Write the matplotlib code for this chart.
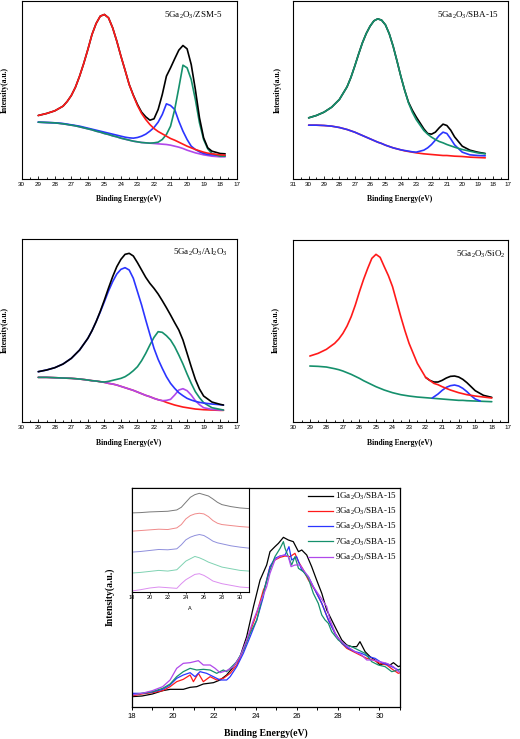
import matplotlib
matplotlib.use('Agg')
import matplotlib.pyplot as plt
from matplotlib.ticker import MultipleLocator

plt.rcParams['font.family'] = 'Liberation Sans'
plt.rcParams['mathtext.fontset'] = 'custom'
plt.rcParams['mathtext.rm'] = 'Liberation Serif'
plt.rcParams['mathtext.it'] = 'Liberation Serif:italic'
plt.rcParams['mathtext.bf'] = 'Liberation Serif:bold'

W, H = 520, 739
SERIF = 'Liberation Serif'

# ---------------- fitted spectra (arbitrary intensity units) ----------------
# 5Ga2O3/ZSM-5
zsm_e = [29, 28.5, 28, 27.5, 27.25, 27, 26.75, 26.5, 26.25, 26, 25.75, 25.5, 25.25, 25, 24.75,
         24.5, 24.25, 24, 23.75, 23.5, 23.25, 23, 22.75, 22.5, 22.25, 22, 21.75, 21.5, 21.25, 21,
         20.75, 20.5, 20.25, 20, 19.75, 19.5, 19.25, 19, 18.75, 18.5, 18, 17.7]
zsm_total = [252, 258, 266, 280, 294, 312, 337, 370, 408, 450, 495, 528, 550, 555, 545, 515, 475,
             430, 388, 345, 313, 285, 262, 248, 238, 242, 270, 315, 370, 395, 422, 448, 462, 452,
             405, 330, 245, 185, 155, 145, 138, 137]
zsm_p1 = [252, 258, 266, 280, 294, 312, 337, 370, 408, 450, 495, 528, 550, 555, 545, 515, 475,
          430, 388, 345, 312, 282, 258, 240, 225, 213, 204, 197, 190, 183, 178, 172, 166, 160,
          155, 150, 146, 142, 139, 137, 134, 133]
zsm_p2 = [232, 231, 230, 228, 226, 224, 222, 220, 217, 214, 211, 208, 205, 202, 199, 196, 193,
          190, 187, 185, 184, 186, 190, 196, 205, 216, 232, 255, 287, 282, 270, 235, 205, 180,
          160, 150, 143, 138, 135, 134, 132, 132]
zsm_p3 = [232, 231, 230, 227, 225, 223, 221, 218, 215, 212, 209, 205, 202, 198, 195, 191, 188,
          184, 181, 178, 175, 173, 171, 170, 169, 170, 172, 180, 195, 220, 270, 335, 403, 395,
          360, 300, 230, 180, 152, 138, 130, 130]
zsm_bg = [232, 231, 230, 227, 225, 223, 221, 218, 215, 212, 209, 205, 202, 198, 195, 191, 188,
          184, 181, 178, 175, 173, 171, 170, 169, 168, 167, 166, 165, 163, 160, 157, 153, 148,
          144, 140, 137, 134, 132, 130, 128, 128]

# 5Ga2O3/SBA-15
sba_e = [30, 29.5, 29, 28.5, 28, 27.5, 27.25, 27, 26.75, 26.5, 26.25, 26, 25.75, 25.5, 25.25, 25,
         24.75, 24.5, 24.25, 24, 23.75, 23.5, 23.25, 23, 22.5, 22.25, 22, 21.75, 21.5, 21.25, 21,
         20.75, 20.5, 20, 19.5, 19, 18.5]
sba_total = [245, 252, 262, 277, 300, 338, 366, 400, 436, 470, 498, 520, 536, 542, 538, 524, 497,
             460, 416, 370, 328, 292, 268, 248, 212, 198, 196, 202, 215, 226, 222, 208, 188, 160,
             148, 142, 138]
sba_p1 = [245, 252, 262, 277, 300, 338, 366, 400, 436, 470, 498, 520, 536, 542, 538, 524, 497,
          460, 416, 370, 328, 290, 262, 240, 207, 196, 187, 180, 174, 170, 165, 161, 157, 150,
          145, 140, 137]
sba_p2 = [223, 223, 222, 220, 216, 210, 206, 202, 197, 192, 187, 182, 177, 172, 168, 163, 159,
          155, 152, 149, 147, 145, 143, 142, 148, 155, 165, 178, 192, 202, 198, 182, 164, 142,
          134, 132, 131]
sba_bg = [223, 223, 222, 220, 216, 210, 206, 202, 197, 192, 187, 182, 177, 172, 168, 163, 159,
          155, 152, 149, 146, 144, 142, 140, 137, 136, 135, 134, 133, 132, 132, 131, 130, 129,
          127, 126, 125]

# 5Ga2O3/Al2O3
al_e = [29, 28.5, 28, 27.5, 27, 26.5, 26, 25.75, 25.5, 25.25, 25, 24.75, 24.5, 24.25, 24, 23.75,
        23.5, 23.25, 23, 22.75, 22.5, 22.25, 22, 21.75, 21.5, 21.25, 21, 20.75, 20.5, 20.25, 20,
        19.75, 19.5, 19.25, 19, 18.5, 18, 17.8]
al_total = [195, 200, 207, 218, 235, 260, 295, 318, 345, 376, 410, 446, 480, 510, 532, 547, 550,
            542, 522, 500, 478, 460, 445, 428, 408, 387, 365, 342, 320, 290, 250, 210, 172, 143,
            122, 104, 97, 95]
al_p1 = [195, 200, 207, 218, 235, 260, 295, 318, 345, 374, 405, 437, 465, 488, 502, 507, 500,
         475, 435, 395, 350, 307, 265, 232, 205, 180, 160, 145, 132, 123, 115, 110, 106, 103,
         101, 98, 96, 95]
al_p2 = [178, 178, 177, 176, 175, 173, 170, 168, 167, 165, 164, 166, 169, 172, 175, 180, 188,
         198, 210, 228, 250, 275, 298, 315, 313, 303, 290, 270, 245, 218, 188, 160, 135, 117,
         102, 87, 82, 80]
al_p3 = [178, 178, 177, 176, 175, 173, 170, 168, 167, 165, 163, 160, 158, 155, 151, 147, 143,
         139, 134, 129, 124, 120, 115, 111, 108, 109, 112, 125, 140, 144, 138, 125, 108, 96, 87,
         82, 80, 80]
al_bg = [178, 178, 177, 176, 175, 173, 170, 168, 167, 165, 163, 160, 158, 155, 151, 147, 143,
         139, 134, 129, 124, 120, 115, 111, 108, 103, 99, 95, 92, 89, 87, 85, 83, 82, 81, 80, 79,
         79]

# 5Ga2O3/SiO2
si_e = [29, 28.5, 28, 27.5, 27.25, 27, 26.75, 26.5, 26.25, 26, 25.75, 25.5, 25.25, 25, 24.75,
        24.5, 24.25, 24, 23.75, 23.5, 23.25, 23, 22.5, 22, 21.5, 21.25, 21, 20.75, 20.5, 20.25,
        20, 19.75, 19.5, 19, 18.5, 18]
si_p1 = [242, 250, 262, 280, 293, 310, 332, 360, 395, 435, 472, 505, 535, 547, 538, 510, 483,
         450, 405, 360, 318, 280, 220, 178, 160, 156, 150, 145, 140, 136, 132, 129, 126, 122,
         119, 116]
si_bg = [212, 211, 209, 204, 201, 197, 192, 187, 181, 175, 168, 162, 156, 150, 145, 140, 136,
         132, 129, 126, 124, 122, 119, 117, 115, 114, 113, 112, 111, 110, 109, 109, 108, 107,
         106, 105]
si_p2_e = [21.6, 21.25, 21, 20.75, 20.5, 20.25, 20, 19.75, 19.5, 19.25, 19, 18.7]
si_p2 = [116, 128, 139, 148, 153, 155, 152, 145, 135, 123, 113, 107]
si_tot_e = [22, 21.75, 21.5, 21.25, 21, 20.75, 20.5, 20.25, 20, 19.75, 19.5, 19.25, 19, 18.5, 18]
si_total = [178, 169, 164, 164, 169, 176, 181, 182, 179, 172, 162, 150, 138, 124, 118]

# ---------------- xGa2O3/SBA-15 raw spectra ----------------
g1_e = [18.0, 18.5, 19.0, 19.5, 19.86, 20.5, 20.83, 21.15, 21.47, 21.96, 22.28, 22.6, 22.93,
        23.25, 23.57, 23.9, 24.22, 24.54, 24.7, 24.94, 25.11, 25.35, 25.59, 25.83, 26.08, 26.24,
        26.48, 26.72, 26.96, 27.21, 27.45, 27.69, 27.93, 28.18, 28.42, 28.66, 28.9, 29.06, 29.31,
        29.55, 29.79, 30.03, 30.28, 30.52, 30.68, 30.92, 31.0]
g1_i = [50, 52, 58, 68, 72, 72, 78, 80, 88, 92, 100, 115, 140, 170, 230, 320, 400, 445, 485, 500,
        510, 528, 520, 515, 485, 490, 475, 440, 400, 360, 310, 280, 250, 220, 205, 200, 200, 215,
        185, 170, 160, 145, 150, 145, 152, 140, 142]
g3_e = [18.0, 18.5, 19.0, 19.5, 19.86, 20.18, 20.5, 20.83, 20.99, 21.23, 21.47, 21.8, 22.12,
        22.44, 22.77, 23.09, 23.41, 23.74, 24.06, 24.38, 24.46, 24.7, 24.94, 25.19, 25.43, 25.67,
        25.91, 26.08, 26.32, 26.56, 26.88, 27.21, 27.53, 27.85, 28.18, 28.42, 28.74, 29.06,
        29.39, 29.71, 30.03, 30.36, 30.68, 30.92, 31.0]
g3_i = [52, 58, 62, 68, 80, 95, 102, 115, 95, 120, 95, 110, 100, 105, 120, 145, 190, 245, 300,
        370, 380, 440, 460, 468, 472, 470, 480, 455, 430, 400, 370, 330, 280, 240, 210, 195, 185,
        175, 165, 160, 150, 145, 130, 120, 122]
g5_e = [18.0, 18.5, 19.0, 19.5, 19.86, 20.18, 20.5, 20.83, 21.07, 21.31, 21.63, 21.96, 22.28,
        22.6, 22.77, 23.09, 23.41, 23.74, 24.06, 24.38, 24.46, 24.7, 24.94, 25.19, 25.43, 25.62,
        25.75, 25.99, 26.24, 26.56, 26.88, 27.21, 27.53, 27.85, 28.18, 28.5, 28.82, 29.14, 29.47,
        29.79, 30.11, 30.44, 30.76, 30.92, 31.0]
g5_i = [60, 60, 64, 72, 85, 105, 115, 122, 110, 125, 120, 110, 100, 100, 110, 140, 180, 230, 280,
        350, 380, 440, 465, 472, 475, 500, 460, 470, 430, 410, 370, 330, 280, 240, 210, 195, 185,
        180, 170, 165, 152, 145, 135, 130, 132]
g7_e = [18.0, 18.5, 19.0, 19.5, 19.86, 20.18, 20.5, 20.83, 21.15, 21.47, 21.8, 22.12, 22.44,
        22.6, 22.77, 23.09, 23.41, 23.74, 24.06, 24.38, 24.46, 24.7, 24.94, 25.19, 25.35, 25.43,
        25.59, 25.75, 25.91, 26.08, 26.32, 26.56, 26.8, 27.04, 27.21, 27.37, 27.53, 27.69, 28.01,
        28.34, 28.66, 28.98, 29.31, 29.63, 29.95, 30.28, 30.6, 30.92, 31.0]
g7_i = [55, 60, 65, 75, 88, 110, 125, 135, 130, 132, 130, 120, 130, 125, 135, 155, 190, 240, 280,
        360, 380, 430, 470, 495, 515, 495, 470, 445, 470, 435, 425, 405, 360, 330, 295, 280, 270,
        245, 220, 205, 200, 190, 180, 155, 145, 140, 125, 130, 132]
g9_e = [18.0, 18.5, 19.0, 19.5, 19.86, 20.18, 20.5, 20.83, 21.23, 21.47, 21.8, 22.04, 22.28,
        22.6, 22.93, 23.25, 23.57, 23.9, 24.22, 24.54, 24.7, 24.94, 25.19, 25.43, 25.59, 25.72,
        25.91, 26.16, 26.32, 26.56, 26.8, 27.13, 27.45, 27.61, 27.93, 28.26, 28.58, 28.82, 29.14,
        29.39, 29.71, 30.03, 30.36, 30.68, 30.92, 31.0]
g9_i = [55, 60, 68, 80, 100, 135, 150, 152, 158, 145, 145, 135, 122, 128, 140, 170, 220, 280,
        330, 380, 420, 460, 472, 475, 470, 440, 445, 445, 430, 410, 380, 350, 320, 280, 230, 210,
        195, 185, 175, 160, 160, 155, 150, 140, 125, 124]
sba_labels = ['1Ga$_2$O$_3$/SBA-15', '3Ga$_2$O$_3$/SBA-15', '5Ga$_2$O$_3$/SBA-15',
              '7Ga$_2$O$_3$/SBA-15', '9Ga$_2$O$_3$/SBA-15']

# inset (stacked, smoothed)
ins_e = [18, 19, 20, 21, 22, 23, 23.5, 24, 24.5, 25, 25.5, 26, 26.5, 27, 27.5, 28, 29, 30, 31]
ins_1 = [253, 254, 256, 257, 258, 262, 270, 285, 300, 308, 312, 308, 304, 295, 285, 278, 272, 268, 266]
ins_3 = [198, 200, 202, 204, 203, 208, 218, 235, 245, 250, 252, 250, 242, 230, 222, 218, 215, 212, 210]
ins_5 = [135, 137, 140, 143, 142, 145, 157, 172, 180, 185, 188, 185, 177, 168, 163, 160, 154, 150, 147]
ins_7 = [72, 74, 77, 80, 78, 82, 95, 108, 115, 122, 118, 112, 105, 100, 95, 90, 85, 80, 78]
ins_9 = [18, 22, 27, 30, 28, 26, 40, 52, 60, 68, 70, 65, 57, 48, 44, 40, 35, 30, 28]

BLACK, RED, BLUE, GREEN, PURPLE = '#000000', '#ff1a1a', '#2b35ff', '#15906c', '#b048ea'

fig = plt.figure(figsize=(W / 100, H / 100), dpi=100)


def add_ax(l, t, r, b):
    return fig.add_axes([l / W, 1 - b / H, (r - l) / W, (b - t) / H])


def ftext(x, y, s, **kw):
    fig.text(x / W, 1 - y / H, s, **kw)


def style_fit(ax, xmax, ylim):
    ax.set_xlim(xmax, 17)
    ax.set_ylim(*ylim)
    ax.set_yticks([])
    ax.xaxis.set_major_locator(MultipleLocator(1))
    ax.xaxis.set_minor_locator(MultipleLocator(0.5))
    ax.tick_params(axis='x', which='both', direction='in', labelsize=4.5, pad=2.5, width=0.6)
    ax.tick_params(axis='x', which='major', length=2.2)
    ax.tick_params(axis='x', which='minor', length=1.5)
    for s in ax.spines.values():
        s.set_linewidth(0.8)


LW = 1.2
kw = dict(lw=LW, solid_joinstyle='round', solid_capstyle='round')

# panel 1
ax1 = add_ax(21.7, 0.5, 236.7, 178.5)
ax1.plot(zsm_e, zsm_bg, color=PURPLE, **kw)
ax1.plot(zsm_e, zsm_p2, color=BLUE, **kw)
ax1.plot(zsm_e, zsm_p3, color=GREEN, **kw)
ax1.plot(zsm_e, zsm_total, color=BLACK, **kw)
ax1.plot(zsm_e, zsm_p1, color=RED, **kw)
style_fit(ax1, 30, (63, 597))
ax1.text(0.936, 0.918, '5Ga$_2$O$_3$/ZSM-5', transform=ax1.transAxes, ha='right', va='center',
         fontsize=6.5, family=SERIF)

# panel 2
ax2 = add_ax(293.3, 0.5, 508.3, 178.5)
ax2.plot(sba_e, sba_bg, color=RED, **kw)
ax2.plot(sba_e, sba_p2, color=BLUE, **kw)
ax2.plot(sba_e, sba_total, color=BLACK, **kw)
ax2.plot(sba_e, sba_p1, color=GREEN, **kw)
style_fit(ax2, 31, (63, 597))
ax2.text(0.957, 0.918, '5Ga$_2$O$_3$/SBA-15', transform=ax2.transAxes, ha='right', va='center',
         fontsize=6.5, family=SERIF)

# panel 3
ax3 = add_ax(21.7, 239, 236.7, 421.7)
ax3.plot(al_e, al_bg, color=RED, **kw)
ax3.plot(al_e, al_p3, color=PURPLE, **kw)
ax3.plot(al_e, al_p2, color=GREEN, **kw)
ax3.plot(al_e, al_p1, color=BLUE, **kw)
ax3.plot(al_e, al_total, color=BLACK, **kw)
style_fit(ax3, 30, (45, 593))
ax3.text(0.96, 0.929, '5Ga$_2$O$_3$/Al$_2$O$_3$', transform=ax3.transAxes, ha='right',
         va='center', fontsize=6.5, family=SERIF)

# panel 4
ax4 = add_ax(293.3, 240, 508.3, 421.7)
ax4.plot(si_e, si_bg, color=GREEN, **kw)
ax4.plot(si_p2_e, si_p2, color=BLUE, **kw)
ax4.plot(si_tot_e, si_total, color=BLACK, **kw)
ax4.plot(si_e, si_p1, color=RED, **kw)
style_fit(ax4, 30, (45, 590))
ax4.text(0.99, 0.923, '5Ga$_2$O$_3$/SiO$_2$', transform=ax4.transAxes, ha='right',
         va='center', fontsize=6.5, family=SERIF)

for x, y in [(5, 90), (278, 90), (5, 330), (276, 330)]:
    ftext(x, y, 'Intensity(a.u.)', rotation=90, ha='center', va='center', fontsize=5.5,
          family=SERIF, weight='bold')
for x, y in [(129, 199), (400, 199), (129, 443), (400, 443)]:
    ftext(x, y, 'Binding Energy(eV)', ha='center', va='center', fontsize=5.5, family=SERIF,
          weight='bold')

# bottom panel
axm = add_ax(131.7, 488, 400, 707)
series = [(g1_e, g1_i, BLACK), (g3_e, g3_i, RED), (g5_e, g5_i, BLUE), (g7_e, g7_i, GREEN),
          (g9_e, g9_i, PURPLE)]
for (e, i, c), lab in zip(series, sba_labels):
    axm.plot(e, i, color=c, lw=0.9, label=lab)
axm.set_xlim(18, 31)
axm.set_ylim(19, 676)
axm.set_yticks([])
axm.xaxis.set_major_locator(MultipleLocator(2))
axm.xaxis.set_minor_locator(MultipleLocator(1))
axm.tick_params(axis='x', which='both', direction='out', labelsize=5.5, pad=2, width=0.7,
                length=2.2)
for s in axm.spines.values():
    s.set_linewidth(0.9)
axm.legend(loc='upper right', frameon=False, prop={'family': SERIF, 'size': 6.5},
           handlelength=2.7, handletextpad=0.3, labelspacing=0.45, borderaxespad=0.1,
           borderpad=0.2)
ftext(110, 597, 'Intensity(a.u.)', rotation=90, ha='center', va='center', fontsize=7,
      family=SERIF, weight='bold')
ftext(266, 733, 'Binding Energy(eV)', ha='center', va='center', fontsize=7, family=SERIF,
      weight='bold')

# inset
axi = add_ax(131.7, 488, 249, 592)
for vals, c in [(ins_1, '#7a7a7a'), (ins_3, '#f08a8a'), (ins_5, '#8f8fdc'),
                (ins_7, '#7fd2b2'), (ins_9, '#dc8ef0')]:
    axi.plot(ins_e, vals, color=c, lw=0.7)
axi.set_xlim(18, 31)
axi.set_ylim(15, 328)
axi.set_yticks([])
axi.set_xticks(range(18, 31, 2))
axi.tick_params(axis='x', labelsize=4, pad=1, length=1.5, width=0.5)
for s in axi.spines.values():
    s.set_linewidth(0.8)
ftext(190, 609, 'A', ha='center', va='center', fontsize=4)

fig.savefig('out.png', dpi=100)
